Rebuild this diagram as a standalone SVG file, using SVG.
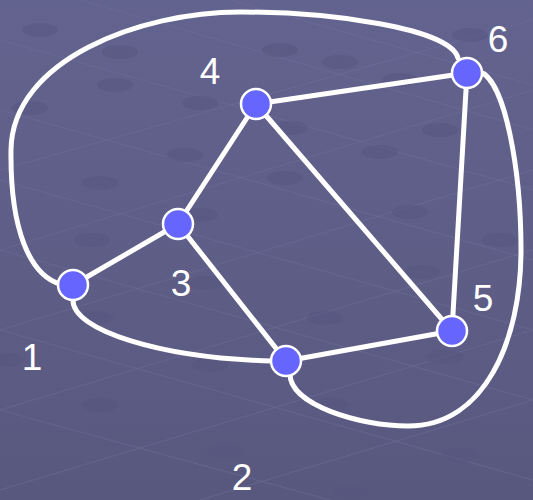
<svg xmlns="http://www.w3.org/2000/svg" width="533" height="500" viewBox="0 0 533 500">
<defs>
<linearGradient id="bg" x1="0" y1="0" x2="0" y2="1">
<stop offset="0" stop-color="#63638f"/>
<stop offset="1" stop-color="#58587f"/>
</linearGradient>
<style>
.edge{fill:none;stroke:#ffffff;stroke-width:5;stroke-linecap:round}
.node{fill:#6666ff;stroke:#ffffff;stroke-width:2.5}
.lbl{font-family:"Liberation Sans",Arial,sans-serif;font-size:37px;fill:#ffffff;text-anchor:middle}
.grid{stroke:#6f6f9c;stroke-width:1;fill:none;opacity:0.5}
.dot{fill:#55557f;opacity:0.45}
</style>
</defs>
<rect width="533" height="500" fill="url(#bg)"/>
<g id="background">
<path class="grid" d="M0,40 L533,190 M0,110 L533,260 M0,180 L533,330 M0,250 L533,400 M0,330 L533,480 M0,410 L330,500 M80,0 L533,130 M230,0 L533,85 M0,170 L533,20 M0,250 L533,90 M0,330 L533,170 M0,410 L533,250 M0,490 L533,330 M200,500 L533,400"/>
<ellipse class="dot" cx="40" cy="30" rx="18" ry="7"/>
<ellipse class="dot" cx="120" cy="52" rx="18" ry="7"/>
<ellipse class="dot" cx="280" cy="50" rx="18" ry="7"/>
<ellipse class="dot" cx="115" cy="85" rx="18" ry="7"/>
<ellipse class="dot" cx="200" cy="103" rx="18" ry="7"/>
<ellipse class="dot" cx="290" cy="128" rx="18" ry="7"/>
<ellipse class="dot" cx="340" cy="62" rx="18" ry="7"/>
<ellipse class="dot" cx="400" cy="80" rx="18" ry="7"/>
<ellipse class="dot" cx="470" cy="35" rx="18" ry="7"/>
<ellipse class="dot" cx="440" cy="130" rx="18" ry="7"/>
<ellipse class="dot" cx="380" cy="152" rx="18" ry="7"/>
<ellipse class="dot" cx="30" cy="108" rx="18" ry="7"/>
<ellipse class="dot" cx="100" cy="183" rx="18" ry="7"/>
<ellipse class="dot" cx="185" cy="155" rx="18" ry="7"/>
<ellipse class="dot" cx="285" cy="178" rx="18" ry="7"/>
<ellipse class="dot" cx="410" cy="212" rx="18" ry="7"/>
<ellipse class="dot" cx="500" cy="240" rx="18" ry="7"/>
<ellipse class="dot" cx="92" cy="240" rx="18" ry="7"/>
<ellipse class="dot" cx="200" cy="215" rx="18" ry="7"/>
<ellipse class="dot" cx="205" cy="283" rx="18" ry="7"/>
<ellipse class="dot" cx="325" cy="318" rx="18" ry="7"/>
<ellipse class="dot" cx="422" cy="272" rx="18" ry="7"/>
<ellipse class="dot" cx="445" cy="357" rx="18" ry="7"/>
<ellipse class="dot" cx="95" cy="318" rx="18" ry="7"/>
<ellipse class="dot" cx="210" cy="365" rx="18" ry="7"/>
<ellipse class="dot" cx="330" cy="405" rx="18" ry="7"/>
<ellipse class="dot" cx="100" cy="405" rx="18" ry="7"/>
<ellipse class="dot" cx="225" cy="452" rx="18" ry="7"/>
<ellipse class="dot" cx="460" cy="455" rx="18" ry="7"/>
<ellipse class="dot" cx="350" cy="492" rx="18" ry="7"/>
<ellipse class="dot" cx="5" cy="360" rx="18" ry="7"/>
</g>
<g id="connectors">
<line class="edge" x1="73" y1="285" x2="178" y2="224"/>
<line class="edge" x1="178" y1="224" x2="256" y2="104"/>
<line class="edge" x1="178" y1="224" x2="286" y2="361"/>
<line class="edge" x1="256" y1="104" x2="467" y2="73"/>
<line class="edge" x1="256" y1="104" x2="452" y2="331"/>
<line class="edge" x1="467" y1="73" x2="452" y2="331"/>
<line class="edge" x1="286" y1="361" x2="452" y2="331"/>
<path class="edge" d="M73,300 C72,330 160,358 272,361"/>
<path class="edge" d="M60,284 C30,275 10,230 11,150 C12,60 140,12 240,12 C330,12 450,28 458,58"/>
<path class="edge" d="M290,374 C290,405 360,426 408,426 C485,426 521,340 521,250 C521,170 505,80 480,72"/>
</g>
<g id="node1"><circle class="node" cx="73" cy="285" r="15"/><text class="lbl" x="32" y="370">1</text></g>
<g id="node2"><circle class="node" cx="286" cy="361" r="15"/><text class="lbl" x="242" y="490">2</text></g>
<g id="node3"><circle class="node" cx="178" cy="224" r="15"/><text class="lbl" x="181" y="296">3</text></g>
<g id="node4"><circle class="node" cx="256" cy="104" r="15"/><text class="lbl" x="210" y="84">4</text></g>
<g id="node5"><circle class="node" cx="452" cy="331" r="15"/><text class="lbl" x="483" y="311">5</text></g>
<g id="node6"><circle class="node" cx="467" cy="73" r="15"/><text class="lbl" x="498" y="52">6</text></g>
</svg>
